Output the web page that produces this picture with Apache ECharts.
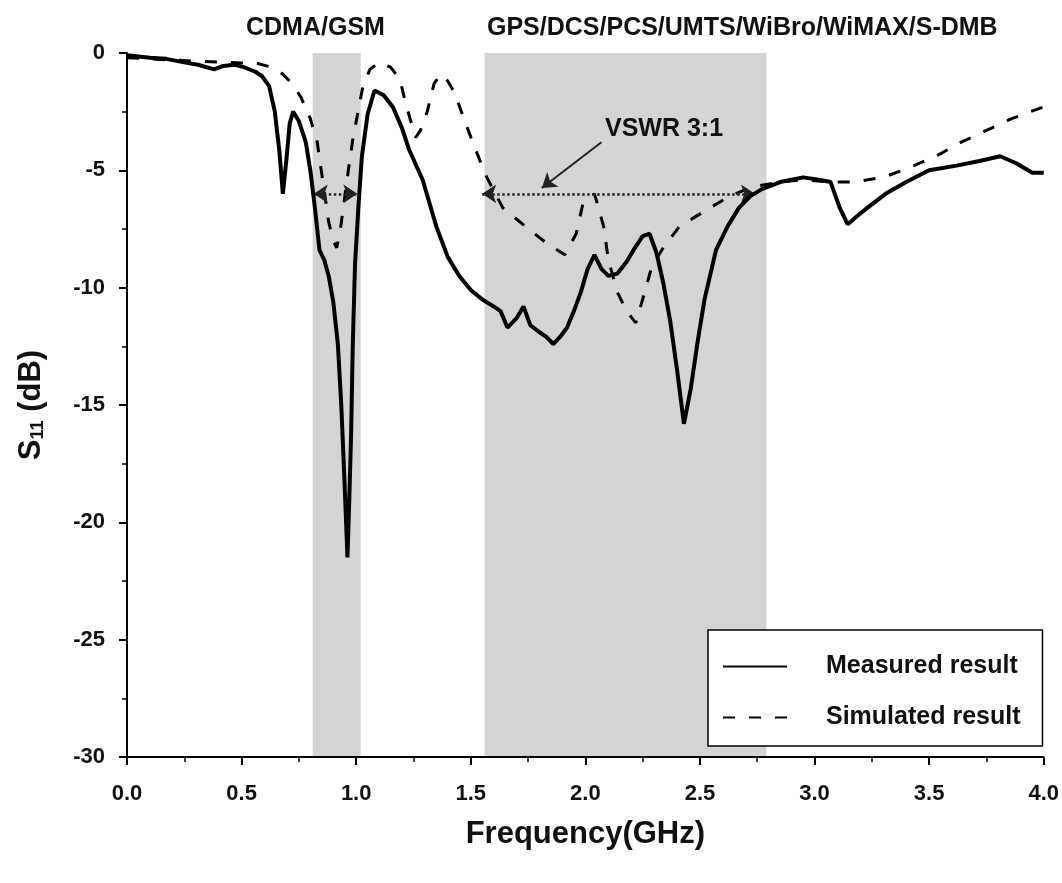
<!DOCTYPE html>
<html>
<head>
<meta charset="utf-8">
<script src="https://cdn.jsdelivr.net/npm/echarts@6/dist/echarts.min.js"></script>
<style>
  html, body { margin: 0; padding: 0; background: #fff; }
  #chart { width: 1062px; height: 883px; }
</style>
</head>
<body>
<div id="chart"></div>
<script>
// frequency (GHz) and S11 (dB)
const measuredFreq = [0.00, 0.05, 0.10, 0.17, 0.25, 0.31, 0.38, 0.42, 0.47, 0.51, 0.56, 0.59, 0.62, 0.645, 0.665, 0.68, 0.695, 0.71, 0.725, 0.75, 0.78, 0.80, 0.82, 0.84, 0.86, 0.88, 0.90, 0.92, 0.935, 0.95, 0.962, 0.97, 0.978, 0.985, 0.995, 1.01, 1.025, 1.05, 1.08, 1.12, 1.16, 1.20, 1.23, 1.29, 1.35, 1.40, 1.45, 1.50, 1.55, 1.60, 1.63, 1.66, 1.70, 1.73, 1.76, 1.80, 1.83, 1.86, 1.89, 1.92, 1.95, 1.98, 2.01, 2.04, 2.07, 2.10, 2.14, 2.18, 2.21, 2.25, 2.28, 2.31, 2.34, 2.37, 2.40, 2.43, 2.46, 2.49, 2.52, 2.57, 2.62, 2.67, 2.72, 2.77, 2.85, 2.95, 3.02, 3.07, 3.11, 3.145, 3.18, 3.23, 3.31, 3.40, 3.50, 3.62, 3.72, 3.81, 3.88, 3.95, 4.00];
const measuredS11 = [-0.1, -0.15, -0.2, -0.25, -0.4, -0.5, -0.7, -0.55, -0.5, -0.6, -0.8, -1.0, -1.4, -2.5, -4.2, -6.0, -4.6, -3.0, -2.5, -2.9, -3.8, -5.0, -6.6, -8.4, -8.8, -9.5, -10.6, -12.4, -15.0, -18.5, -21.5, -19.0, -16.2, -12.5, -9.0, -6.5, -4.4, -2.6, -1.6, -1.8, -2.3, -3.2, -4.1, -5.4, -7.4, -8.7, -9.5, -10.1, -10.5, -10.8, -11.0, -11.7, -11.3, -10.8, -11.6, -11.9, -12.1, -12.4, -12.1, -11.7, -11.0, -10.2, -9.2, -8.6, -9.2, -9.5, -9.4, -8.9, -8.4, -7.8, -7.7, -8.5, -9.8, -11.4, -13.5, -15.8, -14.3, -12.3, -10.5, -8.4, -7.4, -6.6, -6.1, -5.8, -5.5, -5.3, -5.4, -5.5, -6.6, -7.3, -7.0, -6.6, -6.0, -5.5, -5.0, -4.8, -4.6, -4.4, -4.7, -5.1, -5.1];

const simFreq = [0.00, 0.10, 0.20, 0.31, 0.44, 0.57, 0.63, 0.68, 0.72, 0.76, 0.80, 0.83, 0.855, 0.88, 0.90, 0.915, 0.93, 0.945, 0.96, 0.985, 1.01, 1.03, 1.06, 1.10, 1.15, 1.19, 1.22, 1.26, 1.28, 1.31, 1.34, 1.37, 1.40, 1.43, 1.47, 1.52, 1.57, 1.64, 1.74, 1.83, 1.91, 1.96, 1.99, 2.04, 2.08, 2.10, 2.14, 2.18, 2.22, 2.25, 2.29, 2.34, 2.41, 2.51, 2.63, 2.73, 2.85, 2.95, 3.07, 3.17, 3.30, 3.41, 3.53, 3.64, 3.75, 3.86, 3.97, 4.00];
const simS11 = [-0.2, -0.25, -0.3, -0.35, -0.4, -0.45, -0.6, -0.9, -1.3, -1.9, -2.8, -3.8, -5.5, -7.2, -8.0, -8.3, -7.6, -6.5, -5.4, -3.7, -2.4, -1.4, -0.7, -0.4, -0.6, -1.1, -2.3, -3.6, -3.3, -2.5, -1.3, -0.9, -1.2, -1.7, -2.8, -4.1, -5.3, -6.6, -7.4, -8.1, -8.6, -7.7, -6.4, -6.0, -7.4, -8.8, -10.2, -11.0, -11.5, -10.5, -9.1, -8.3, -7.4, -6.8, -6.1, -5.7, -5.5, -5.4, -5.5, -5.5, -5.3, -4.9, -4.4, -3.8, -3.3, -2.8, -2.4, -2.3];

// shaded service bands (GHz)
const bandCdma = [0.81, 1.02];
const bandUpper = [1.56, 2.79];
const vswrLevel = -6;
const seriesNames = ['Measured result', 'Simulated result'];

const font = '"Liberation Sans", Arial, sans-serif';
const chart = echarts.init(document.getElementById('chart'));

const zip = (xs, ys) => xs.map((x, i) => [x, ys[i]]);

const option = {
  backgroundColor: '#fff',
  animation: false,
  title: [
    { text: 'CDMA/GSM', left: 246, top: 16, padding: 0,
      textStyle: { fontFamily: font, fontSize: 25, fontWeight: 'bold', color: '#111' } },
    { text: 'GPS/DCS/PCS/UMTS/WiBro/WiMAX/S-DMB', left: 487, top: 16, padding: 0,
      textStyle: { fontFamily: font, fontSize: 25, fontWeight: 'bold', color: '#111' } },
    { text: 'VSWR 3:1', left: 605, top: 117, padding: 0,
      textStyle: { fontFamily: font, fontSize: 25, fontWeight: 'bold', color: '#111' } }
  ],
  legend: {
    orient: 'vertical',
    left: 708,
    top: 630,
    padding: [24, 22, 16, 14],
    itemWidth: 64,
    itemHeight: 14,
    itemGap: 26,
    borderColor: '#000',
    borderWidth: 1.5,
    backgroundColor: '#fff',
    itemStyle: { opacity: 0 },
    data: seriesNames,
    formatter: '{t|{name}}',
    textStyle: {
      rich: {
        t: { fontFamily: font, fontSize: 25, fontWeight: 'bold', color: '#111', padding: [0, 0, 0, 34], lineHeight: 30 }
      }
    }
  },
  grid: { left: 127, right: 18, top: 53, bottom: 126 },
  xAxis: {
    type: 'value',
    min: 0,
    max: 4,
    interval: 0.5,
    name: 'Frequency(GHz)',
    nameLocation: 'middle',
    nameGap: 62,
    nameTextStyle: { fontFamily: font, fontSize: 31, fontWeight: 'bold', color: '#111' },
    axisLine: { show: true, onZero: false, lineStyle: { color: '#000', width: 2 } },
    axisTick: { show: true, length: 8, lineStyle: { color: '#000', width: 2 } },
    minorTick: { show: true, splitNumber: 2, length: 5, lineStyle: { color: '#000', width: 1.5 } },
    axisLabel: { margin: 26, fontFamily: font, fontSize: 22, fontWeight: 'bold', color: '#111',
      formatter: v => v.toFixed(1) },
    splitLine: { show: false }
  },
  yAxis: {
    type: 'value',
    min: -30,
    max: 0,
    interval: 5,
    name: '{a|S}{b|11}{a| (dB)}',
    nameLocation: 'middle',
    nameRotate: 90,
    nameGap: 80,
    nameTextStyle: {
      rich: {
        a: { fontFamily: font, fontSize: 31, fontWeight: 'bold', color: '#111' },
        b: { fontFamily: font, fontSize: 18, fontWeight: 'bold', color: '#111', padding: [14, 0, 0, 0] }
      }
    },
    axisLine: { show: true, onZero: false, lineStyle: { color: '#000', width: 2 } },
    axisTick: { show: true, length: 8, lineStyle: { color: '#000', width: 2 } },
    minorTick: { show: true, splitNumber: 2, length: 5, lineStyle: { color: '#000', width: 1.5 } },
    axisLabel: { margin: 22, fontFamily: font, fontSize: 22, fontWeight: 'bold', color: '#111' },
    splitLine: { show: false }
  },
  series: [
    {
      name: seriesNames[0],
      type: 'line',
      showSymbol: false,
      symbol: 'none',
      z: 5,
      lineStyle: { color: '#000', width: 4 },
      itemStyle: { color: '#000' },
      data: zip(measuredFreq, measuredS11),
      markArea: {
        silent: true,
        itemStyle: { color: 'rgba(0,0,0,0.17)' },
        data: [
          [{ xAxis: bandCdma[0] }, { xAxis: bandCdma[1] }],
          [{ xAxis: bandUpper[0] }, { xAxis: bandUpper[1] }]
        ]
      },
      markLine: {
        silent: true,
        symbol: ['arrow', 'arrow'],
        symbolSize: 14,
        label: { show: false },
        lineStyle: { color: '#222', type: 'dotted', width: 2.5 },
        data: [
          [{ coord: [1.55, vswrLevel] }, { coord: [2.74, vswrLevel] }],
          [{ coord: [0.815, vswrLevel] }, { coord: [1.005, vswrLevel] }],
          [{ coord: [2.07, -3.8], symbol: 'none', lineStyle: { type: 'solid', width: 2 } },
           { coord: [1.81, -5.75], symbol: 'arrow' }]
        ]
      }
    },
    {
      name: seriesNames[1],
      type: 'line',
      showSymbol: false,
      symbol: 'none',
      z: 4,
      lineStyle: { color: '#000', width: 3, type: [12, 14] },
      itemStyle: { color: '#000' },
      data: zip(simFreq, simS11)
    }
  ]
};

chart.setOption(option);
</script>
</body>
</html>
